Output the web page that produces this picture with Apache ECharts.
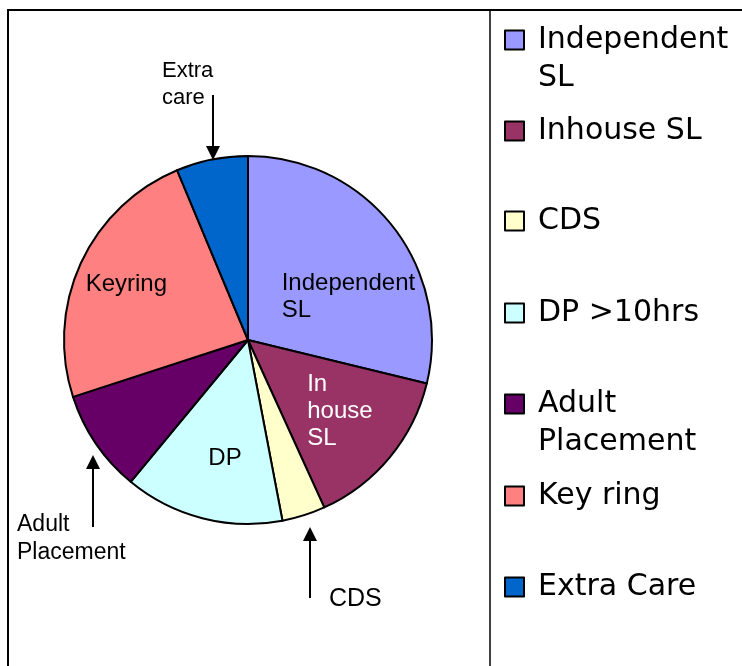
<!DOCTYPE html>
<html>
<head>
<meta charset="utf-8">
<script src="https://cdn.jsdelivr.net/npm/echarts@6/dist/echarts.min.js"></script>
<style>
html, body { margin: 0; padding: 0; background: #fff; }
#chart { width: 742px; height: 666px; }
</style>
</head>
<body>
<div id="chart"></div>
<script>
// slices, clockwise from 12 o'clock (percent share)
var names = ['Independent SL', 'Inhouse SL', 'CDS', 'DP >10hrs', 'Adult Placement', 'Key ring', 'Extra Care'];
var values = [28.8, 14.4, 3.8, 14.0, 9.0, 23.7, 6.3];
var colors = ['#9999FF', '#993366', '#FFFFCC', '#CCFFFF', '#660066', '#FF8080', '#0066CC'];
var sliceLabels = ['Independent\nSL', 'In\nhouse\nSL', '', 'DP', '', 'Keyring', ''];
var legendLabels = ['Independent\nSL', 'Inhouse SL', 'CDS', 'DP >10hrs', 'Adult\nPlacement', 'Key ring', 'Extra Care'];

// label nudges inside the slices
var labelShift = [[-41, 16], [-14, 11], [0, 0], [-16, 26], [0, 0], [-76, -16], [0, 0]];
var labelColor = ['#000', '#fff', '#000', '#000', '#000', '#000', '#000'];
var legendIconY = [40, 131, 221, 313, 404, 496, 587];

var chart = echarts.init(document.getElementById('chart'));

var pieData = names.map(function(name, i) {
  return {
    name: name,
    value: values[i],
    itemStyle: { color: colors[i] },
    label: {
      show: sliceLabels[i] !== '',
      formatter: sliceLabels[i],
      color: labelColor[i]
    }
  };
});

// one legend per entry so the boxes sit on a fixed pitch like the original
var legends = names.map(function(name, i) {
  var twoLines = legendLabels[i].indexOf('\n') >= 0;
  return {
    data: [name],
    orient: 'vertical',
    left: 504,
    top: legendIconY[i] - (twoLines ? 57 : 19),
    padding: 0,
    itemWidth: 19,
    itemHeight: 19,
    icon: 'rect',
    selectedMode: false,
    itemStyle: { borderColor: '#000', borderWidth: 2 },
    // blank first line keeps the box level with the first text line
    formatter: function() { return twoLines ? ' \n' + legendLabels[i] : legendLabels[i]; },
    textStyle: {
      fontFamily: 'DejaVu Sans',
      fontSize: 30,
      lineHeight: 38,
      color: '#000',
      padding: [0, 0, 0, 9]
    }
  };
});

function arrow(x, yFrom, yTip) {
  var dir = yTip > yFrom ? 1 : -1;
  var base = yTip - dir * 14;
  return [
    { type: 'line', shape: { x1: x, y1: yFrom, x2: x, y2: base }, style: { stroke: '#000', lineWidth: 2 } },
    { type: 'polygon', shape: { points: [[x - 7, base], [x + 7, base], [x, yTip]] }, style: { fill: '#000' } }
  ];
}

function note(text, x, y, size, lh) {
  return {
    type: 'text',
    x: x, y: y,
    style: {
      text: text, fill: '#000',
      font: size + 'px "Liberation Sans", Arial, sans-serif',
      lineHeight: lh,
      align: 'left', verticalAlign: 'top',
      textAlign: 'left', textVerticalAlign: 'top'
    }
  };
}

var graphics = [
  { type: 'rect', shape: { x: 8, y: 10, width: 800, height: 700 }, style: { fill: 'none', stroke: '#000', lineWidth: 2 } },
  { type: 'line', shape: { x1: 490, y1: 10, x2: 490, y2: 700 }, style: { stroke: '#000', lineWidth: 1.5 } },
  note('Extra\ncare', 162, 57, 22, 27),
  note('Adult\nPlacement', 17, 511, 23, 28),
  note('CDS', 329, 585, 25, 28)
].concat(arrow(213, 95, 160), arrow(93, 527, 455), arrow(310, 598, 527));

var option = {
  backgroundColor: '#fff',
  animation: false,
  legend: legends,
  graphic: graphics,
  series: [{
    type: 'pie',
    center: [248, 340],
    radius: 184,
    startAngle: 90,
    clockwise: true,
    avoidLabelOverlap: false,
    data: pieData,
    itemStyle: { borderColor: '#000', borderWidth: 2 },
    emphasis: { disabled: true },
    label: {
      position: 'inside',
      fontFamily: '"Liberation Sans", Arial, sans-serif',
      fontSize: 24,
      lineHeight: 27
    },
    labelLine: { show: false },
    labelLayout: function(params) {
      var s = labelShift[params.dataIndex];
      return { dx: s[0], dy: s[1], align: 'left', verticalAlign: 'middle' };
    }
  }]
};

chart.setOption(option);
</script>
</body>
</html>
